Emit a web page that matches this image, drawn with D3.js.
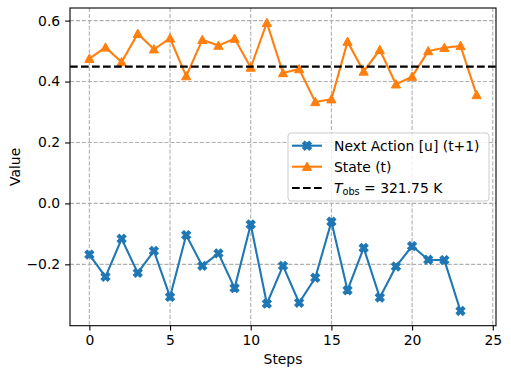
<!DOCTYPE html>
<html>
<head>
<meta charset="utf-8">
<script src="https://cdn.jsdelivr.net/npm/d3@7"></script>
<style>
  body { margin: 0; background: #fff; }
  svg { font-family: "DejaVu Sans", sans-serif; }
</style>
</head>
<body>
<svg width="511" height="376"></svg>
<script>
// values
const actionValues = [-0.168, -0.241, -0.116, -0.228, -0.156, -0.307, -0.104, -0.205, -0.164, -0.278,
                      -0.069, -0.329, -0.205, -0.326, -0.244, -0.060, -0.285, -0.146, -0.309, -0.207,
                      -0.140, -0.185, -0.186, -0.353];
const stateValues = [0.475, 0.512, 0.464, 0.557, 0.506, 0.542, 0.418, 0.537, 0.518, 0.541,
                     0.446, 0.593, 0.428, 0.441, 0.333, 0.342, 0.531, 0.433, 0.504, 0.391,
                     0.416, 0.500, 0.511, 0.517, 0.356];
const tObsLevel = 0.449;
const xTicks = [0, 5, 10, 15, 20, 25];
const yTicks = [-0.2, 0.0, 0.2, 0.4, 0.6];

const width = 511;
const height = 376;
const plotLeft = 70, plotRight = 496, plotTop = 8, plotBottom = 325.7;
const fontSize = 13.9;

const blue = "#1f77b4";
const orange = "#ff7f0e";

const xScale = d3.scaleLinear()
                 .domain([-1.2, 25.2])
                 .range([plotLeft, plotRight]);

const yScale = d3.scaleLinear()
                 .domain([-0.4014, 0.6414])
                 .range([plotBottom, plotTop]);

const svg = d3.select("svg");

// grid
const grid = svg.append("g");
grid.selectAll(".gx")
    .data(xTicks)
    .enter()
    .append("line")
      .attr("x1", d => xScale(d)).attr("x2", d => xScale(d))
      .attr("y1", plotTop).attr("y2", plotBottom)
      .attr("stroke", "#b0b0b0")
      .attr("stroke-width", 1.1)
      .attr("stroke-dasharray", "4.1,1.8");
grid.selectAll(".gy")
    .data(yTicks)
    .enter()
    .append("line")
      .attr("x1", plotLeft).attr("x2", plotRight)
      .attr("y1", d => yScale(d)).attr("y2", d => yScale(d))
      .attr("stroke", "#b0b0b0")
      .attr("stroke-width", 1.1)
      .attr("stroke-dasharray", "4.1,1.8");

// axes
const xAxis = d3.axisBottom(xScale)
                .tickValues(xTicks)
                .tickFormat(d3.format("d"))
                .tickSize(4.9)
                .tickPadding(4.9)
                .tickSizeOuter(0);

const yAxis = d3.axisLeft(yScale)
                .tickValues(yTicks)
                .tickFormat(d3.format(".1f"))
                .tickSize(4.9)
                .tickPadding(4.9)
                .tickSizeOuter(0);

const gx = svg.append("g")
   .attr("transform", `translate(0, ${plotBottom})`)
   .call(xAxis);
const gy = svg.append("g")
   .attr("transform", `translate(${plotLeft}, 0)`)
   .call(yAxis);

[gx, gy].forEach(g => {
  g.select(".domain").remove();
  g.selectAll("text")
   .attr("font-family", "DejaVu Sans")
   .attr("font-size", fontSize)
   .attr("fill", "#000");
  g.selectAll("line").attr("stroke", "#000").attr("stroke-width", 1.1);
});
gy.selectAll("text").text(d => d3.format(".1f")(d).replace("-", "\u2212"));

svg.append("text")
   .attr("x", (plotLeft + plotRight) / 2)
   .attr("y", 364)
   .attr("text-anchor", "middle")
   .attr("font-size", fontSize)
   .text("Steps");

svg.append("text")
   .attr("transform", "rotate(-90)")
   .attr("x", -(plotTop + plotBottom) / 2)
   .attr("y", 20)
   .attr("text-anchor", "middle")
   .attr("font-size", fontSize)
   .text("Value");

// marker shapes
const xMarker = d3.symbol().type(d3.symbolCross).size(50)();
const triPath = "M0,-4.6L-4.6,3.7L4.6,3.7Z";

// series
const line = d3.line()
               .x((d, i) => xScale(i))
               .y(d => yScale(d));

svg.append("path")
   .datum(actionValues)
   .attr("d", line)
   .attr("fill", "none")
   .attr("stroke", blue)
   .attr("stroke-width", 2.1);

svg.selectAll(".act")
   .data(actionValues)
   .enter()
   .append("path")
     .attr("d", xMarker)
     .attr("transform", (d, i) => `translate(${xScale(i)},${yScale(d)}) rotate(45)`)
     .attr("fill", blue)
     .attr("stroke", blue)
     .attr("stroke-width", 1);

svg.append("path")
   .datum(stateValues)
   .attr("d", line)
   .attr("fill", "none")
   .attr("stroke", orange)
   .attr("stroke-width", 2.1);

svg.selectAll(".st")
   .data(stateValues)
   .enter()
   .append("path")
     .attr("d", triPath)
     .attr("transform", (d, i) => `translate(${xScale(i)},${yScale(d)})`)
     .attr("fill", orange)
     .attr("stroke", orange)
     .attr("stroke-width", 1);

svg.append("line")
   .attr("x1", plotLeft).attr("x2", plotRight)
   .attr("y1", yScale(tObsLevel)).attr("y2", yScale(tObsLevel))
   .attr("stroke", "#000")
   .attr("stroke-width", 2.1)
   .attr("stroke-dasharray", "7.7,3.3");

// frame
svg.append("rect")
   .attr("x", plotLeft).attr("y", plotTop)
   .attr("width", plotRight - plotLeft).attr("height", plotBottom - plotTop)
   .attr("fill", "none")
   .attr("stroke", "#000")
   .attr("stroke-width", 1.1);

// legend
const legend = svg.append("g");
legend.append("rect")
   .attr("x", 288).attr("y", 133)
   .attr("width", 201).attr("height", 68)
   .attr("rx", 3)
   .attr("fill", "#fff")
   .attr("fill-opacity", 0.8)
   .attr("stroke", "#ccc")
   .attr("stroke-width", 1);

const rowY = [145.7, 166.7, 188];
legend.append("line")
   .attr("x1", 292).attr("x2", 322).attr("y1", rowY[0]).attr("y2", rowY[0])
   .attr("stroke", blue).attr("stroke-width", 2.1);
legend.append("path")
   .attr("d", xMarker)
   .attr("transform", `translate(307,${rowY[0]}) rotate(45)`)
   .attr("fill", blue).attr("stroke", blue).attr("stroke-width", 1);
legend.append("line")
   .attr("x1", 292).attr("x2", 322).attr("y1", rowY[1]).attr("y2", rowY[1])
   .attr("stroke", orange).attr("stroke-width", 2.1);
legend.append("path")
   .attr("d", triPath)
   .attr("transform", `translate(307,${rowY[1]})`)
   .attr("fill", orange).attr("stroke", orange).attr("stroke-width", 1);
legend.append("line")
   .attr("x1", 292).attr("x2", 322).attr("y1", rowY[2]).attr("y2", rowY[2])
   .attr("stroke", "#000").attr("stroke-width", 2.1)
   .attr("stroke-dasharray", "7.7,3.3");

legend.append("text")
   .attr("x", 334).attr("y", rowY[0]).attr("dy", "0.35em")
   .attr("font-size", fontSize)
   .text("Next Action [u] (t+1)");
legend.append("text")
   .attr("x", 334).attr("y", rowY[1]).attr("dy", "0.35em")
   .attr("font-size", fontSize)
   .text("State (t)");
const tobs = legend.append("text")
   .attr("x", 334).attr("y", rowY[2]).attr("dy", "0.35em")
   .attr("font-size", fontSize);
tobs.append("tspan").attr("font-style", "italic").text("T");
tobs.append("tspan").attr("font-size", fontSize * 0.7).attr("dy", "0.25em").text("obs");
tobs.append("tspan").attr("dy", "-0.18em").text(" = 321.75 K");
</script>
</body>
</html>
